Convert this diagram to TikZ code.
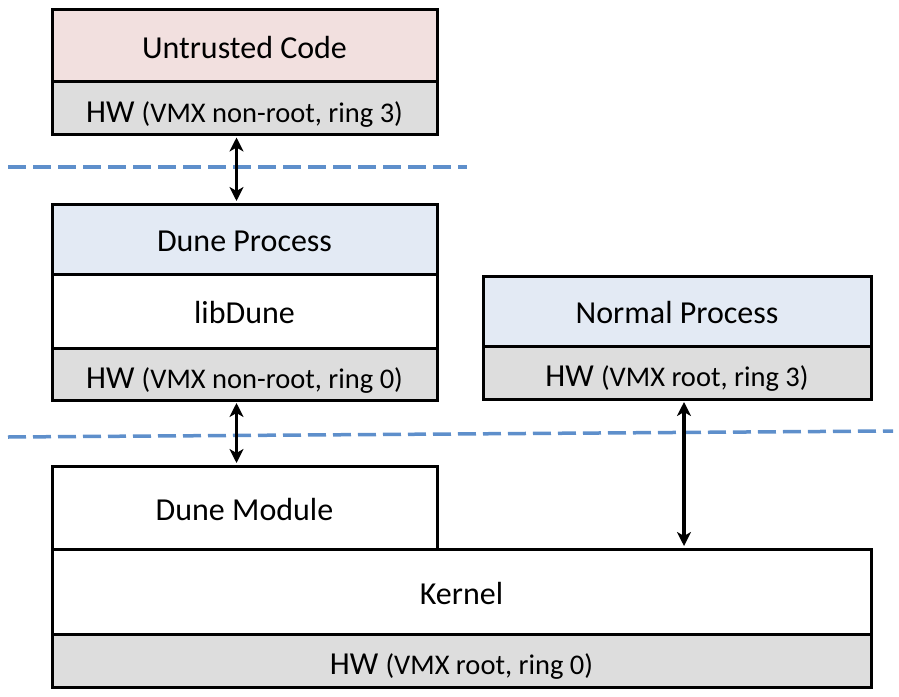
\documentclass[tikz,border=0pt]{standalone}
\usepackage{fontspec}
\setmainfont{Carlito}
\usetikzlibrary{arrows.meta}

\definecolor{untrustedred}{HTML}{F2E0DF}
\definecolor{procblue}{HTML}{E3EAF4}
\definecolor{hwgray}{HTML}{DDDDDD}
\definecolor{ringblue}{HTML}{5E8FCB}

\newcommand{\hwlabel}[1]{HW {\fontsize{28.5}{32}\selectfont (#1)}}

\begin{document}
\begin{tikzpicture}[x=1pt,y=-1pt,
    layer/.style={rectangle, draw, line width=3pt, inner sep=0pt, minimum width=#1,
      font=\fontsize{32}{36}\selectfont, text height=25pt, text depth=0pt},
    layer/.default=385,
    hw/.style={fill=hwgray, text height=28pt},
    call/.style={{Stealth[length=14pt,width=14pt,inset=4pt]}-{Stealth[length=14pt,width=14pt,inset=4pt]}, line width=3.5pt, shorten <=1.5pt, shorten >=1.5pt},
    border/.style={ringblue, line width=3.5pt, dash pattern=on 18pt off 7pt}]
      \useasboundingbox (0,0) rectangle (899,696);

      % guest side
      \node[layer, fill=untrustedred, minimum height=72] (untrusted) at (244.5,45.5) {Untrusted Code};
      \node[layer, hw, minimum height=53] (hwguest) at (244.5,108) {\hwlabel{VMX non-root, ring 3}};

      \node[layer, fill=procblue, minimum height=70] (duneproc) at (244.5,239) {Dune Process};
      \node[layer, fill=white, minimum height=74] (libdune) at (244.5,311) {libDune};
      \node[layer, hw, minimum height=52] (hwdune) at (244.5,374) {\hwlabel{VMX non-root, ring 0}};

      % host side
      \node[layer=388, fill=procblue, minimum height=70] (normal) at (677,311) {Normal Process};
      \node[layer=388, hw, minimum height=53] (hwnormal) at (677,372.5) {\hwlabel{VMX root, ring 3}};

      \node[layer, fill=white, minimum height=83] (dunemod) at (244.5,507.5) {Dune Module};
      \node[layer=819, fill=white, minimum height=85] (kernel) at (461.5,591.5) {Kernel};
      \node[layer=819, hw, minimum height=53] (hwkernel) at (461.5,660.5) {\hwlabel{VMX root, ring 0}};

      % privilege borders
      \coordinate (b1l) at (8,167);
      \coordinate (b1r) at (467,167);
      \coordinate (b2l) at (8,437);
      \coordinate (b2r) at (893,431);
      \draw[border] (b1l) -- (b1r);
      \draw[border] (b2l) -- (b2r);

      \draw[call] ([xshift=-8pt]hwguest.south) -- ([xshift=-8pt]duneproc.north);
      \draw[call] ([xshift=-8pt]hwdune.south) -- ([xshift=-8pt]dunemod.north);
      \draw[call] ([xshift=7pt]hwnormal.south) -- ([xshift=7pt]hwnormal.south |- kernel.north);
    \end{tikzpicture}
\end{document}
